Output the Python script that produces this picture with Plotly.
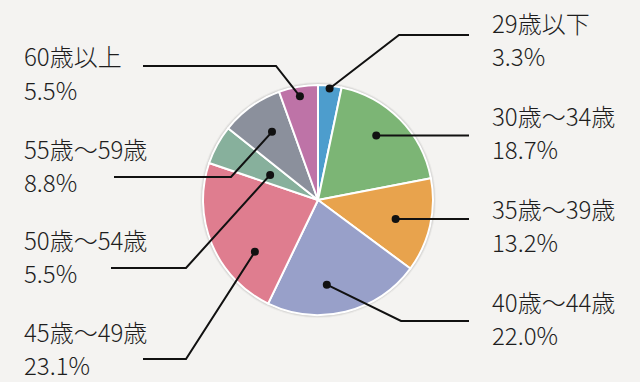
import math
import plotly.graph_objects as go

# ---- data ----
categories = ["29歳以下", "30歳〜34歳", "35歳〜39歳", "40歳〜44歳",
              "45歳〜49歳", "50歳〜54歳", "55歳〜59歳", "60歳以上"]
shares = [3.3, 18.7, 13.2, 22.0, 23.1, 5.5, 8.8, 5.5]
colors = ["#4d9dcd", "#7cb575", "#e8a34d", "#98a0c9",
          "#df7d8f", "#87b09c", "#8b909c", "#be73a7"]

# ---- layout config (pixels) ----
W, H = 640, 382
CX, CY, R = 318, 200, 115
BG = "#f4f3f1"
FONT = "Noto Sans CJK JP"
FS = 24
# where the marker dot sits inside each slice: fraction along slice, fraction of radius
dot_along = [0.5, 0.45, 0.52, 0.6, 0.30, 0.45, 0.55, 0.5]
dot_rad = [0.975, 0.755, 0.695, 0.74, 0.71, 0.47, 0.715, 0.915]
# label placement: x, y of first line (digit centre)
label_pos = [(490, 23), (490, 115), (490, 208), (490, 301),
             (22, 331), (22, 239), (22, 148), (22, 56)]
# leader: elbow x, line y (None -> dot y), far end x
leaders = [(399, 35, 469), (None, None, 469), (None, None, 469), (401, 321, 469),
           (186, 359, 143), (186, 268, 111), (231, 177, 114), (276, 66, 143)]


def px(x):
    return x / W


def py(y):
    return 1 - y / H


fig = go.Figure()
fig.add_trace(go.Pie(
    labels=categories, values=shares, sort=False, direction="clockwise",
    rotation=0, textinfo="none", hoverinfo="label+percent",
    marker=dict(colors=colors, line=dict(color="white", width=2)),
    domain=dict(x=[px(CX - R), px(CX + R)], y=[py(CY + R), py(CY - R)]),
    showlegend=False,
))

shapes = []
# soft shadow around the pie
for i, op in enumerate([0.10, 0.07, 0.04]):
    rr = R + 1 + i
    shapes.append(dict(type="circle", xref="paper", yref="paper", layer="below",
                       x0=px(CX - rr), x1=px(CX + rr), y0=py(CY + rr), y1=py(CY - rr),
                       fillcolor=f"rgba(0,0,0,{op})", line=dict(width=0)))

total = sum(shares)
annotations = []
cum = 0.0
for i, v in enumerate(shares):
    ang = 2 * math.pi * (cum + v * dot_along[i]) / total
    cum += v
    r = R * dot_rad[i]
    dx, dy = CX + r * math.sin(ang), CY - r * math.cos(ang)
    ex, ly, fx = leaders[i]
    if ex is None:
        ex, ly = dx, dy
    path = f"M {px(dx)} {py(dy)} L {px(ex)} {py(ly)} L {px(fx)} {py(ly)}"
    shapes.append(dict(type="path", xref="paper", yref="paper", path=path,
                       line=dict(color="#111111", width=2)))
    d = 4
    shapes.append(dict(type="circle", xref="paper", yref="paper",
                       x0=px(dx - d), x1=px(dx + d), y0=py(dy + d), y1=py(dy - d),
                       fillcolor="#111111", line=dict(width=0)))
    lx, lyy = label_pos[i]
    for j, txt in enumerate([categories[i], f"{v:.1f}%"]):
        annotations.append(dict(text=txt, xref="paper", yref="paper",
                                x=px(lx), y=py(lyy + j * 33), xanchor="left", yanchor="middle",
                                showarrow=False,
                                font=dict(family=FONT, size=FS, color="#1e1e1e", weight=300)))

fig.update_layout(
    width=W, height=H, margin=dict(l=0, r=0, t=0, b=0),
    paper_bgcolor=BG, plot_bgcolor=BG,
    shapes=shapes, annotations=annotations,
)
fig.write_html("out.html", config={"displayModeBar": False},
               post_script="document.body.style.margin='0';document.body.style.background='" + BG + "';")
